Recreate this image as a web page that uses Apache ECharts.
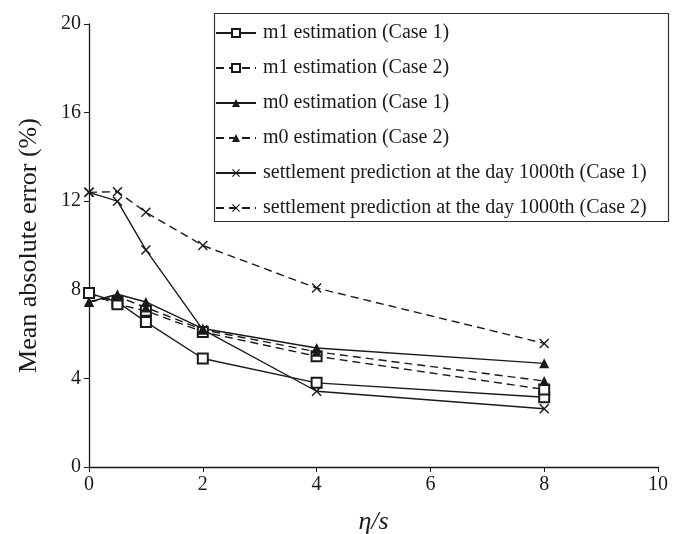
<!DOCTYPE html>
<html>
<head>
<meta charset="utf-8">
<script src="https://cdn.jsdelivr.net/npm/echarts@6/dist/echarts.min.js"></script>
<style>html,body{margin:0;padding:0;background:#fff}#c{width:674px;height:534px}</style>
</head>
<body>
<div id="c"></div>
<script>
var xValues = [0, 0.5, 1, 2, 4, 8];
var m1Case1 = [7.85, 7.45, 6.55, 4.9, 3.8, 3.15];
var m1Case2 = [7.85, 7.35, 7.05, 6.1, 5.0, 3.5];
var m0Case1 = [7.45, 7.8, 7.45, 6.25, 5.37, 4.68];
var m0Case2 = [7.45, 7.7, 7.2, 6.2, 5.2, 3.88];
var settleCase1 = [12.4, 12.0, 9.8, 6.2, 3.42, 2.63];
var settleCase2 = [12.4, 12.43, 11.5, 10.0, 8.08, 5.58];
var seriesNames = [
  'm1 estimation (Case 1)',
  'm1 estimation (Case 2)',
  'm0 estimation (Case 1)',
  'm0 estimation (Case 2)',
  'settlement prediction at the day 1000th (Case 1)',
  'settlement prediction at the day 1000th (Case 2)'
];
var yTicks = [0, 4, 8, 12, 16, 20];
var xTicks = [0, 2, 4, 6, 8, 10];

var INK = '#1a1a1a';
var crossPath = 'path://M0,1L1,0L5,4L9,0L10,1L6,5L10,9L9,10L5,6L1,10L0,9L4,5Z';
function pairs(ys){ return xValues.map(function(x,i){ return [x, ys[i]]; }); }
function mk(name, ys, symbol, dashed, size){
  return {
    name: name, type: 'line', data: pairs(ys),
    symbol: symbol, symbolSize: size,
    lineStyle: {color: INK, width: 1.4, type: dashed ? [8,5] : 'solid'},
    itemStyle: {color: INK, borderColor: INK, borderWidth: symbol === 'emptyRect' ? 1.2 : 0},
    emphasis: {disabled: true},
    animation: false
  };
}
var chart = echarts.init(document.getElementById('c'), null, {renderer: 'canvas'});
chart.setOption({
  backgroundColor: '#fff',
  animation: false,
  grid: {left: 89, right: 16, top: 24, bottom: 67, containLabel: false, outerBoundsMode: 'none'},
  graphic: [{
    type: 'rect', left: 212, top: 11, z: 100,
    shape: {x: 0, y: 0, width: 454, height: 208},
    style: {fill: 'none', stroke: '#333', lineWidth: 1.2}
  }],
  legend: {
    orient: 'vertical', left: 215, top: 23,
    padding: 0,
    itemWidth: 40, itemHeight: 10, itemGap: 15,
    textStyle: {fontFamily: 'Liberation Serif', fontSize: 20, lineHeight: 20, color: INK, padding: [0,0,0,2]},
    data: seriesNames
  },
  xAxis: {
    type: 'value', min: 0, max: 10, interval: 2,
    name: 'η/s', nameLocation: 'middle', nameGap: 42,
    nameTextStyle: {fontFamily: 'Liberation Serif', fontStyle: 'italic', fontSize: 26, color: INK},
    axisLine: {lineStyle: {color: INK, width: 1.3}},
    axisTick: {show: true, length: 5, lineStyle: {color: INK}},
    axisLabel: {fontFamily: 'Liberation Serif', fontSize: 20, color: INK, margin: 8,
      formatter: function(v){ return xTicks.indexOf(v) >= 0 ? String(v) : ''; }},
    splitLine: {show: false}
  },
  yAxis: {
    type: 'value', min: 0, max: 20, interval: 4,
    name: 'Mean absolute error (%)', nameLocation: 'middle', nameGap: 47,
    nameTextStyle: {fontFamily: 'Liberation Serif', fontSize: 26, color: INK},
    axisLine: {show: true, lineStyle: {color: INK, width: 1.3}},
    axisTick: {show: true, length: 5, lineStyle: {color: INK}},
    axisLabel: {fontFamily: 'Liberation Serif', fontSize: 20, color: INK, margin: 8,
      formatter: function(v){ return yTicks.indexOf(v) >= 0 ? String(v) : ''; }},
    splitLine: {show: false}
  },
  series: [
    mk(seriesNames[0], m1Case1, 'emptyRect', false, 10),
    mk(seriesNames[1], m1Case2, 'emptyRect', true, 10),
    mk(seriesNames[2], m0Case1, 'triangle', false, 10),
    mk(seriesNames[3], m0Case2, 'triangle', true, 10),
    mk(seriesNames[4], settleCase1, crossPath, false, 10),
    mk(seriesNames[5], settleCase2, crossPath, true, 10)
  ]
});
</script>
</body>
</html>
